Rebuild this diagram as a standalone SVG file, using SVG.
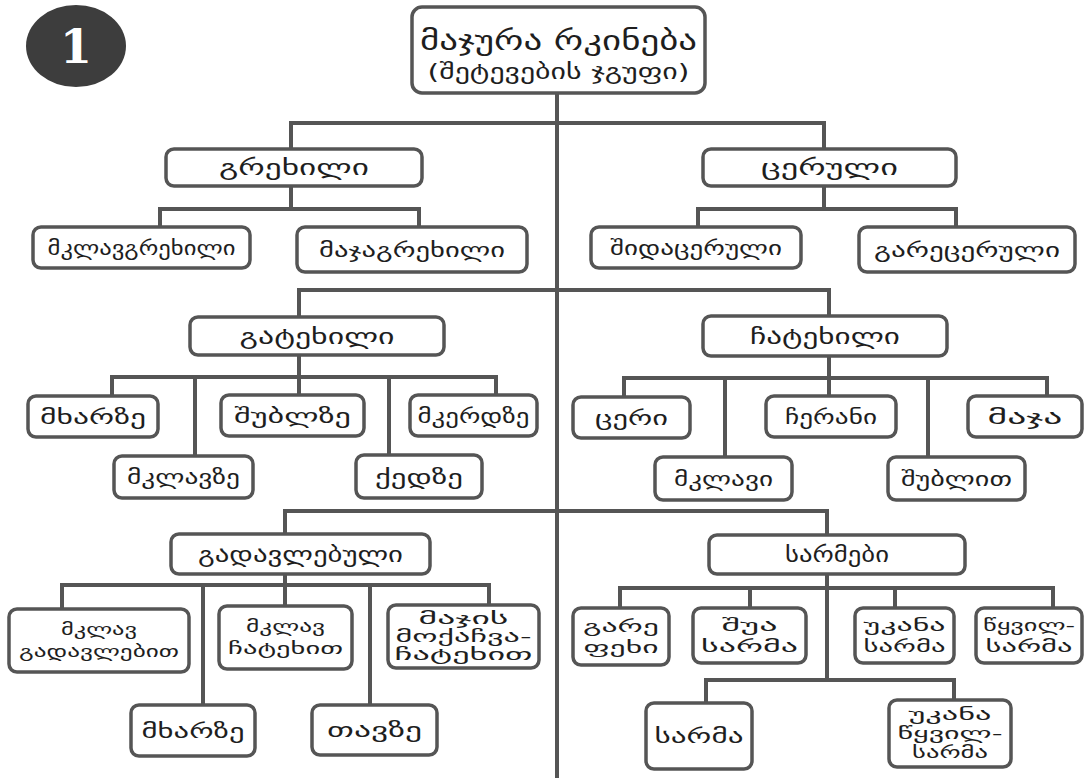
<svg xmlns="http://www.w3.org/2000/svg" width="1085" height="778" viewBox="0 0 1085 778">
<style>
.box{fill:#fff;stroke:#555;stroke-width:3.5}
.ln{stroke:#555;stroke-width:4;fill:none;stroke-linecap:square}
.t{font-family:"DejaVu Sans",sans-serif;fill:#1e1e1e;text-anchor:middle;dominant-baseline:central}
.h{font-size:22px}
.l{font-size:19px}
.m{font-size:16px}
.big{font-size:28px}
.sub{font-size:22px}
</style>
<rect width="1085" height="778" fill="#fff"/>
<g id="badge">
<ellipse cx="76" cy="46" rx="50" ry="41" fill="#3d3d3d"/>
<text x="76" y="47" font-family="DejaVu Serif, serif" font-weight="bold" font-size="46" fill="#fff" text-anchor="middle" dominant-baseline="central">1</text>
</g>
<g id="connectors">
<path class="ln" d="M557 93V778"/>
<path class="ln" d="M291 149V123H824V149"/>
<path class="ln" d="M291 186V209M160 227V209H419V227"/>
<path class="ln" d="M824 186V209M698 227V209H956V227"/>
<path class="ln" d="M299 317V290H829V316"/>
<path class="ln" d="M299 355V377M112 396V377H496V395M195 377V456M299 377V395M389 377V455"/>
<path class="ln" d="M829 356V378M624 397V378H1047V396M725 378V457M829 378V396M928 378V457"/>
<path class="ln" d="M285 534V511H827V535"/>
<path class="ln" d="M285 574V585M62 609V585H489V606M203 585V705M285 585V606M370 585V705"/>
<path class="ln" d="M827 574V680M620 608V588H1053V608M750 588V608M895 588V608M706 703V680H954V700"/>
</g>
<g id="root">
<rect class="box" x="412" y="7" width="293" height="86" rx="10"/>
<text class="t big" x="558.5" y="40" textLength="277" lengthAdjust="spacingAndGlyphs">მაჯურა რკინება</text>
<text class="t sub" x="558.5" y="71" textLength="262" lengthAdjust="spacingAndGlyphs">(შეტევების ჯგუფი)</text>
</g>
<g id="grekhili">
<rect class="box" x="166" y="149" width="256" height="37" rx="8"/>
<text class="t h" x="294" y="167.5" textLength="150" lengthAdjust="spacingAndGlyphs">გრეხილი</text>
</g>
<g id="mklavgrekhili">
<rect class="box" x="33" y="227" width="217" height="41" rx="8"/>
<text class="t l" x="141.5" y="247.5" textLength="188" lengthAdjust="spacingAndGlyphs">მკლავგრეხილი</text>
</g>
<g id="majagrekhili">
<rect class="box" x="297" y="227" width="230" height="45" rx="8"/>
<text class="t l" x="412" y="249.5" textLength="186" lengthAdjust="spacingAndGlyphs">მაჯაგრეხილი</text>
</g>
<g id="ceruli">
<rect class="box" x="703" y="149" width="253" height="37" rx="8"/>
<text class="t h" x="829.5" y="167.5" textLength="137" lengthAdjust="spacingAndGlyphs">ცერული</text>
</g>
<g id="shidaceruli">
<rect class="box" x="591" y="227" width="210" height="41" rx="8"/>
<text class="t l" x="696" y="247.5" textLength="172" lengthAdjust="spacingAndGlyphs">შიდაცერული</text>
</g>
<g id="gareceruli">
<rect class="box" x="859" y="227" width="216" height="45" rx="8"/>
<text class="t l" x="967" y="249.5" textLength="186" lengthAdjust="spacingAndGlyphs">გარეცერული</text>
</g>
<g id="gatekhili">
<rect class="box" x="190" y="317" width="254" height="38" rx="8"/>
<text class="t h" x="317" y="336" textLength="155" lengthAdjust="spacingAndGlyphs">გატეხილი</text>
</g>
<g id="mkharze1">
<rect class="box" x="28" y="396" width="130" height="41" rx="8"/>
<text class="t l" x="93" y="416.5" textLength="106" lengthAdjust="spacingAndGlyphs">მხარზე</text>
</g>
<g id="mklavze">
<rect class="box" x="114" y="456" width="139" height="42" rx="8"/>
<text class="t l" x="183.5" y="477" textLength="113" lengthAdjust="spacingAndGlyphs">მკლავზე</text>
</g>
<g id="shublze">
<rect class="box" x="221" y="395" width="143" height="41" rx="8"/>
<text class="t l" x="292.5" y="415.5" textLength="117" lengthAdjust="spacingAndGlyphs">შუბლზე</text>
</g>
<g id="qedze">
<rect class="box" x="356" y="455" width="126" height="43" rx="8"/>
<text class="t l" x="419" y="476.5" textLength="88" lengthAdjust="spacingAndGlyphs">ქედზე</text>
</g>
<g id="mkerdze">
<rect class="box" x="410" y="395" width="127" height="41" rx="8"/>
<text class="t l" x="473.5" y="415.5" textLength="112" lengthAdjust="spacingAndGlyphs">მკერდზე</text>
</g>
<g id="chatekhili">
<rect class="box" x="703" y="316" width="244" height="40" rx="8"/>
<text class="t h" x="825" y="336" textLength="150" lengthAdjust="spacingAndGlyphs">ჩატეხილი</text>
</g>
<g id="ceri">
<rect class="box" x="573" y="397" width="117" height="41" rx="8"/>
<text class="t l" x="631.5" y="417.5" textLength="73" lengthAdjust="spacingAndGlyphs">ცერი</text>
</g>
<g id="mklavi">
<rect class="box" x="655" y="457" width="137" height="43" rx="8"/>
<text class="t l" x="723.5" y="478.5" textLength="99" lengthAdjust="spacingAndGlyphs">მკლავი</text>
</g>
<g id="cherani">
<rect class="box" x="766" y="396" width="130" height="41" rx="8"/>
<text class="t l" x="831" y="416.5" textLength="92" lengthAdjust="spacingAndGlyphs">ჩერანი</text>
</g>
<g id="shublit">
<rect class="box" x="888" y="457" width="137" height="43" rx="8"/>
<text class="t l" x="956.5" y="478.5" textLength="111" lengthAdjust="spacingAndGlyphs">შუბლით</text>
</g>
<g id="maja">
<rect class="box" x="968" y="396" width="114" height="41" rx="8"/>
<text class="t l" x="1025" y="416.5" textLength="75" lengthAdjust="spacingAndGlyphs">მაჯა</text>
</g>
<g id="gadavlebuli">
<rect class="box" x="171" y="534" width="259" height="40" rx="8"/>
<text class="t h" x="300.5" y="554" textLength="205" lengthAdjust="spacingAndGlyphs">გადავლებული</text>
</g>
<g id="mklav-gadavlebit">
<rect class="box" x="9" y="609" width="180" height="63" rx="8"/>
<text class="t m" x="99" y="629" textLength="76" lengthAdjust="spacingAndGlyphs">მკლავ</text>
<text class="t m" x="99" y="651" textLength="160" lengthAdjust="spacingAndGlyphs">გადავლებით</text>
</g>
<g id="mkharze2">
<rect class="box" x="131" y="705" width="124" height="51" rx="8"/>
<text class="t l" x="193" y="730.5" textLength="103" lengthAdjust="spacingAndGlyphs">მხარზე</text>
</g>
<g id="mklav-chatekhit">
<rect class="box" x="219" y="606" width="133" height="63" rx="8"/>
<text class="t m" x="285.5" y="626" textLength="79" lengthAdjust="spacingAndGlyphs">მკლავ</text>
<text class="t m" x="285.5" y="648" textLength="115" lengthAdjust="spacingAndGlyphs">ჩატეხით</text>
</g>
<g id="tavze">
<rect class="box" x="312" y="705" width="125" height="50" rx="8"/>
<text class="t l" x="374.5" y="730" textLength="95" lengthAdjust="spacingAndGlyphs">თავზე</text>
</g>
<g id="majis-moqachva">
<rect class="box" x="388" y="605" width="151" height="63" rx="8"/>
<text class="t m" x="463.5" y="618" textLength="90" lengthAdjust="spacingAndGlyphs">მაჯის</text>
<text class="t m" x="463.5" y="636" textLength="136" lengthAdjust="spacingAndGlyphs">მოქაჩვა-</text>
<text class="t m" x="463.5" y="654" textLength="138" lengthAdjust="spacingAndGlyphs">ჩატეხით</text>
</g>
<g id="sarmebi">
<rect class="box" x="709" y="535" width="256" height="39" rx="8"/>
<text class="t h" x="837" y="554.5" textLength="104" lengthAdjust="spacingAndGlyphs">სარმები</text>
</g>
<g id="gare-pekhi">
<rect class="box" x="573" y="608" width="96" height="57" rx="8"/>
<text class="t m" x="621" y="626" textLength="76" lengthAdjust="spacingAndGlyphs">გარე</text>
<text class="t m" x="621" y="647" textLength="75" lengthAdjust="spacingAndGlyphs">ფეხი</text>
</g>
<g id="shua-sarma">
<rect class="box" x="693" y="608" width="113" height="55" rx="8"/>
<text class="t m" x="749.5" y="625" textLength="56" lengthAdjust="spacingAndGlyphs">შუა</text>
<text class="t m" x="749.5" y="646" textLength="97" lengthAdjust="spacingAndGlyphs">სარმა</text>
</g>
<g id="ukana-sarma">
<rect class="box" x="855" y="608" width="99" height="55" rx="8"/>
<text class="t m" x="904.5" y="625" textLength="82" lengthAdjust="spacingAndGlyphs">უკანა</text>
<text class="t m" x="904.5" y="646" textLength="82" lengthAdjust="spacingAndGlyphs">სარმა</text>
</g>
<g id="tsqvil-sarma">
<rect class="box" x="976" y="608" width="106" height="55" rx="8"/>
<text class="t m" x="1029" y="625" textLength="92" lengthAdjust="spacingAndGlyphs">წყვილ-</text>
<text class="t m" x="1029" y="646" textLength="87" lengthAdjust="spacingAndGlyphs">სარმა</text>
</g>
<g id="sarma">
<rect class="box" x="646" y="703" width="106" height="66" rx="8"/>
<text class="t l" x="699" y="736" textLength="89" lengthAdjust="spacingAndGlyphs">სარმა</text>
</g>
<g id="ukana-tsqvil-sarma">
<rect class="box" x="889" y="700" width="122" height="67" rx="8"/>
<text class="t m" x="950" y="714" textLength="83" lengthAdjust="spacingAndGlyphs">უკანა</text>
<text class="t m" x="950" y="733" textLength="105" lengthAdjust="spacingAndGlyphs">წყვილ-</text>
<text class="t m" x="950" y="752" textLength="76" lengthAdjust="spacingAndGlyphs">სარმა</text>
</g>
</svg>
